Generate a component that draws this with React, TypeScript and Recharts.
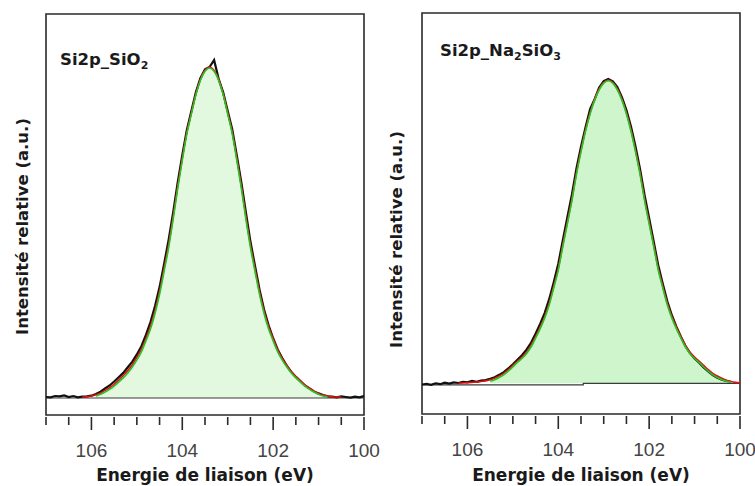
import { Area, ComposedChart, Line, ReferenceArea, XAxis, YAxis } from "recharts";

// binding energy grid (eV), shared by both spectra
const ENERGY = [
  107.0, 106.9, 106.8, 106.7, 106.6, 106.5, 106.4, 106.3, 106.2, 106.1,
  106.0, 105.9, 105.8, 105.7, 105.6, 105.5, 105.4, 105.3, 105.2, 105.1,
  105.0, 104.9, 104.8, 104.7, 104.6, 104.5, 104.4, 104.3, 104.2, 104.1,
  104.0, 103.9, 103.8, 103.7, 103.6, 103.5, 103.4, 103.3, 103.2, 103.1,
  103.0, 102.9, 102.8, 102.7, 102.6, 102.5, 102.4, 102.3, 102.2, 102.1,
  102.0, 101.9, 101.8, 101.7, 101.6, 101.5, 101.4, 101.3, 101.2, 101.1,
  101.0, 100.9, 100.8, 100.7, 100.6, 100.5, 100.4, 100.3, 100.2, 100.1,
  100.0,
];

const TICKS = [107, 106.5, 106, 105.5, 105, 104.5, 104, 103.5, 103, 102.5, 102, 101.5, 101, 100.5, 100];
const MAJOR_TICKS = [106, 104, 102, 100];

// Si2p_SiO2 — measured points, envelope, fitted component
const SIO2_DATA = [
  0.3, 0.2, 0.6, 0.5, 0.8, 0.3, 0.6, 0.2, 0.4, 0.5,
  0.7, 1.2, 1.9, 2.9, 3.8, 5.0, 6.3, 7.6, 9.3, 11.0,
  13.2, 15.7, 19.1, 23.0, 27.9, 33.6, 40.6, 48.0, 56.3, 65.4,
  73.6, 81.2, 87.0, 92.7, 97.0, 99.6, 100.3, 102.4, 96.7, 92.6,
  87.0, 81.4, 73.5, 65.3, 56.2, 47.4, 40.1, 32.9, 26.8, 22.0,
  18.1, 14.7, 12.1, 9.8, 7.9, 6.4, 5.1, 3.8, 2.9, 2.0,
  1.4, 0.9, 0.5, 0.4, 0.2, 0.5, 0.3, 0.1, 0.4, 0.2,
  0.6,
];
const SIO2_ENV = [
  null, null, null, null, null, null, null, null, 0.3, 0.4,
  0.6, 1.0, 1.5, 2.3, 3.1, 4.2, 5.4, 6.8, 8.3, 10.1,
  12.3, 14.8, 18.1, 21.8, 26.5, 32.3, 39.3, 46.5, 55.0, 64.2,
  72.6, 80.5, 86.4, 92.2, 96.6, 99.3, 100.3, 99.3, 96.6, 92.2,
  86.4, 80.5, 72.7, 64.3, 55.0, 46.4, 39.2, 32.2, 26.3, 21.6,
  18.0, 14.6, 12.0, 9.9, 8.0, 6.5, 5.2, 4.0, 3.0, 2.1,
  1.4, 0.9, 0.6, 0.4, 0.3, 0.3, null, null, null, null,
  null,
];
const SIO2_FIT = [
  null, null, null, null, null, null, null, null, null, null,
  null, 0.6, 1.1, 1.8, 2.6, 3.6, 4.8, 6.1, 7.6, 9.4,
  11.5, 14.0, 17.3, 20.9, 25.6, 31.4, 38.4, 45.6, 54.2, 63.5,
  72.0, 80.0, 86.0, 91.9, 96.3, 99.0, 100.0, 99.0, 96.3, 91.9,
  86.0, 80.0, 72.0, 63.5, 54.2, 45.6, 38.4, 31.4, 25.6, 20.9,
  17.3, 14.0, 11.5, 9.4, 7.6, 6.1, 4.8, 3.6, 2.6, 1.8,
  1.1, 0.6, 0.3, null, null, null, null, null, null, null,
  null,
];
const SIO2_BG_E = [107, 100];
const SIO2_BG = [0, 0];

// Si2p_Na2SiO3
const NASIO_DATA = [
  -0.4, -0.2, -0.5, 0.0, -0.3, 0.2, -0.1, 0.3, 0.1, 0.5,
  0.3, 0.8, 0.5, 0.9, 1.1, 1.5, 2.0, 2.8, 3.7, 4.9,
  6.3, 7.8, 9.3, 11.1, 13.4, 16.4, 19.6, 23.2, 27.8, 33.4,
  39.5, 47.3, 54.9, 62.4, 71.0, 78.2, 84.6, 90.6, 93.9, 97.8,
  99.9, 100.6, 99.8, 97.9, 94.6, 90.3, 84.9, 78.3, 70.8, 62.2,
  54.6, 46.9, 39.0, 32.9, 27.1, 22.5, 18.7, 15.4, 12.3, 10.0,
  8.2, 6.8, 5.2, 3.9, 2.7, 1.8, 1.2, 0.8, 0.5, null,
  null,
];
const NASIO_ENV = [
  null, null, null, null, null, null, null, null, 0.0, 0.1,
  0.2, 0.3, 0.4, 0.6, 0.8, 1.2, 1.7, 2.4, 3.3, 4.5,
  5.9, 7.3, 8.7, 10.3, 12.5, 15.4, 18.6, 22.1, 26.5, 32.1,
  38.0, 45.8, 53.3, 60.9, 69.6, 77.0, 83.8, 89.4, 94.0, 97.3,
  99.4, 100.2, 99.4, 97.3, 94.0, 89.4, 83.8, 77.0, 69.6, 60.9,
  53.3, 45.8, 38.0, 32.1, 26.5, 22.1, 18.6, 15.4, 12.5, 10.3,
  8.7, 7.3, 5.9, 4.5, 3.3, 2.4, 1.7, 1.0, 0.6, 0.3,
  0.2,
];
const NASIO_FIT = [
  null, null, null, null, null, null, null, null, null, null,
  null, null, null, null, null, 0.7, 1.2, 1.9, 2.8, 4.0,
  5.4, 6.9, 8.2, 9.8, 12.0, 14.9, 18.0, 21.5, 25.9, 31.5,
  37.4, 45.2, 52.7, 60.3, 69.0, 76.5, 83.3, 89.0, 93.6, 97.0,
  99.2, 100.0, 99.2, 97.0, 93.6, 89.0, 83.3, 76.5, 69.0, 60.3,
  52.7, 45.2, 37.4, 31.5, 25.9, 21.5, 18.0, 14.9, 12.0, 9.8,
  8.2, 6.9, 5.4, 4.0, 2.8, 1.9, 1.2, 0.7, 0.4, null,
  null,
];
const NASIO_BG_E = [107, 103.45, 103.45, 100];
const NASIO_BG = [-0.5, -0.5, 0, 0];

const TITLE_FONT = "'DejaVu Sans', Verdana, sans-serif";
const TICK_FONT = "'Liberation Sans', Arial, sans-serif";

function EnergyTick({ x, y, payload }: any) {
  const major = MAJOR_TICKS.includes(payload.value);
  return (
    <g>
      <line x1={x} x2={x} y1={y + 2} y2={y + (major ? 15 : 10)} stroke="#2a2a2a" strokeWidth={1.6} />
      {major && (
        <text x={x} y={y + 42} textAnchor="middle" fontFamily={TICK_FONT} fontSize={19} fill="#444">
          {payload.value}
        </text>
      )}
    </g>
  );
}

function XTitle({ viewBox }: any) {
  const cx = viewBox.x + viewBox.width / 2;
  return (
    <text x={cx} y={viewBox.y + viewBox.height - 5} textAnchor="middle" fontFamily={TITLE_FONT}
      fontWeight="bold" fontSize={17} fill="#1a1a1a">
      Energie de liaison (eV)
    </text>
  );
}

function YTitle({ viewBox, dx = 0, dy = 0 }: any) {
  const cx = viewBox.x + viewBox.width / 2 + dx;
  const cy = viewBox.y + viewBox.height / 2 + dy;
  return (
    <text x={cx} y={cy} transform={`rotate(-90, ${cx}, ${cy})`} textAnchor="middle" dominantBaseline="central"
      fontFamily={TITLE_FONT} fontWeight="bold" fontSize={16.5} fill="#1a1a1a">
      Intensité relative (a.u.)
    </text>
  );
}

function PanelTitle({ viewBox, parts, dx, dy }: any) {
  return (
    <text x={viewBox.x + dx} y={viewBox.y + dy} fontFamily={TITLE_FONT} fontWeight="bold" fontSize={16.5}
      fill="#1a1a1a">
      {parts.map((p: [string, boolean], i: number) =>
        p[1]
          ? <tspan key={i} fontSize={11} dy={4}>{p[0]}</tspan>
          : <tspan key={i} dy={i > 0 && parts[i - 1][1] ? -4 : 0}>{p[0]}</tspan>
      )}
    </text>
  );
}

type PanelProps = {
  left: number;
  width: number;
  axisWidth: number;
  top: number;
  domain: [number, number];
  data: (number | null)[];
  env: (number | null)[];
  fit: (number | null)[];
  bgE: number[];
  bg: number[];
  fill: string;
  title: [string, boolean][];
  titleDx: number;
  titleDy: number;
  yDx: number;
  yDy: number;
};

function Panel(p: PanelProps) {
  const rows = ENERGY.map((e, i) => ({ e, data: p.data[i], env: p.env[i], fit: p.fit[i] }));
  const bgRows = p.bgE.map((e, i) => ({ e, bg: p.bg[i] }));
  const plotW = 318;
  return (
    <div style={{ position: "absolute", left: p.left, top: 0 }}>
      <ComposedChart width={p.width} height={486} data={rows}
        margin={{ top: p.top, right: p.width - p.axisWidth - plotW, bottom: 0, left: 0 }}>
        <XAxis dataKey="e" type="number" domain={[100, 107]} reversed allowDataOverflow ticks={TICKS} interval={0}
          axisLine={false} tickLine={false} tickSize={0} tickMargin={0} height={486 - p.top - 401}
          tick={(t: any) => <EnergyTick {...t} />} label={<XTitle />} />
        <YAxis type="number" domain={p.domain} allowDataOverflow width={p.axisWidth} axisLine={false}
          tickLine={false} tick={false} label={<YTitle dx={p.yDx} dy={p.yDy} />} />
        <Area dataKey="fit" type="monotone" stroke="none" fill={p.fill} fillOpacity={1} baseValue={0}
          isAnimationActive={false} />
        <Line data={bgRows} dataKey="bg" type="linear" stroke="#3a3a3a" strokeWidth={1.2} dot={false}
          isAnimationActive={false} />
        <Line dataKey="data" type="linear" stroke="#111" strokeWidth={2.2} dot={false} isAnimationActive={false} />
        <Line dataKey="env" type="monotone" stroke="#e3120b" strokeWidth={1.6} dot={false} isAnimationActive={false} />
        <Line dataKey="fit" type="monotone" stroke="#2cc02c" strokeWidth={1.6} dot={false} isAnimationActive={false} />
        <ReferenceArea x1={107} x2={100} y1={p.domain[0]} y2={p.domain[1]} fill="none" stroke="#2a2a2a"
          strokeWidth={1.6} ifOverflow="visible"
          label={<PanelTitle parts={p.title} dx={p.titleDx} dy={p.titleDy} />} />
      </ComposedChart>
    </div>
  );
}

export default function App() {
  return (
    <div style={{ position: "absolute", left: 0, top: 0, width: 755, height: 486, background: "#fff", overflow: "hidden" }}>
      <Panel left={0} width={380} axisWidth={46} top={14} domain={[-5.15, 116.36]}
        data={SIO2_DATA} env={SIO2_ENV} fit={SIO2_FIT} bgE={SIO2_BG_E} bg={SIO2_BG} fill="#e2f8df"
        title={[["Si2p_SiO", false], ["2", true]]} titleDx={14} titleDy={51} yDx={-1} yDy={12} />
      <Panel left={380} width={375} axisWidth={42} top={13} domain={[-10.15, 122.4]}
        data={NASIO_DATA} env={NASIO_ENV} fit={NASIO_FIT} bgE={NASIO_BG_E} bg={NASIO_BG} fill="#cff5cc"
        title={[["Si2p_Na", false], ["2", true], ["SiO", false], ["3", true]]} titleDx={18} titleDy={43}
        yDx={-5} yDy={26} />
    </div>
  );
}
